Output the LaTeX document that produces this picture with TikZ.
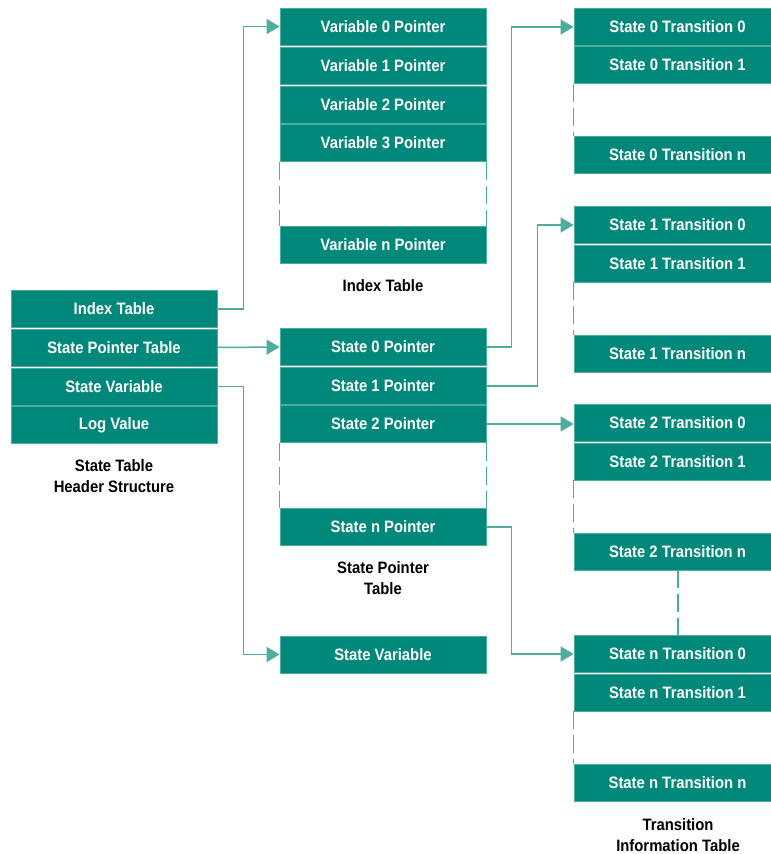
\documentclass[tikz,border=0pt]{standalone}
\usepackage{fontspec}
\setmainfont{Liberation Sans}[FakeStretch=0.9,UprightFont=*,BoldFont=* Bold]
\usetikzlibrary{arrows.meta}
\definecolor{tealbox}{HTML}{00897A}
\definecolor{tealline}{HTML}{4DAE9F}
\begin{document}
\begin{tikzpicture}[x=1pt,y=-1pt,
    cell/.style={fill=tealbox,draw=tealline,line width=0.8pt,text=white,
      minimum width=206pt,minimum height=37pt,inner sep=0pt,font=\fontsize{16.5}{18}\selectfont\bfseries},
    wide/.style={cell,minimum width=207pt},
    caption/.style={align=center,font=\fontsize{16.5}{21}\selectfont\bfseries},
    link/.style={draw=tealline,line width=1.5pt,-{Triangle[length=13pt,width=15pt]}},
    gapline/.style={draw=tealline,line width=1.3pt,dash pattern=on 18pt off 6pt}]
  \useasboundingbox (0,0) rectangle (771,854);

  % header structure
  \node[cell] (idx)  at (114,309)   {Index Table};
  \node[cell] (spt)  at (114,347.5) {State Pointer Table};
  \node[cell] (svar) at (114,386.5) {State Variable};
  \node[cell] (logv) at (114,425)   {Log Value};
  \node[caption] at (114,476) {State Table\\Header Structure};

  % index table
  \node[cell] (v0) at (383,26.5)  {Variable 0 Pointer};
  \node[cell] (v1) at (383,65.5)  {Variable 1 Pointer};
  \node[cell] (v2) at (383,104.5) {Variable 2 Pointer};
  \node[cell] (v3) at (383,143)   {Variable 3 Pointer};
  \node[cell] (vn) at (383,245)   {Variable n Pointer};
  \node[caption] at (383,286) {Index Table};

  % state pointer table
  \node[cell] (s0) at (383,347) {State 0 Pointer};
  \node[cell] (s1) at (383,386) {State 1 Pointer};
  \node[cell] (s2) at (383,424) {State 2 Pointer};
  \node[cell] (sn) at (383,527) {State n Pointer};
  \node[caption] at (383,578) {State Pointer\\Table};

  \node[cell] (sv) at (383,654.5) {State Variable};

  % transition information table
  \node[wide] (t00) at (677.5,27)    {State 0 Transition 0};
  \node[wide] (t01) at (677.5,65)    {State 0 Transition 1};
  \node[wide] (t0n) at (677.5,155)   {State 0 Transition n};
  \node[wide] (t10) at (677.5,225)   {State 1 Transition 0};
  \node[wide] (t11) at (677.5,263.5) {State 1 Transition 1};
  \node[wide] (t1n) at (677.5,353.5) {State 1 Transition n};
  \node[wide] (t20) at (677.5,423)   {State 2 Transition 0};
  \node[wide] (t21) at (677.5,461.5) {State 2 Transition 1};
  \node[wide] (t2n) at (677.5,551.5) {State 2 Transition n};
  \node[wide] (tn0) at (677.5,654)   {State n Transition 0};
  \node[wide] (tn1) at (677.5,692.5) {State n Transition 1};
  \node[wide] (tnn) at (677.5,783)   {State n Transition n};
  \node[caption] at (678,835) {Transition\\Information Table};

  % open ends of the tables
  \path[gapline]
    (v3.south west) -- (vn.north west)
    (v3.south east) -- (vn.north east)
    (s2.south west) -- (sn.north west)
    (s2.south east) -- (sn.north east)
    (t01.south west) -- (t0n.north west)
    (t11.south west) -- (t1n.north west)
    (t21.south west) -- (t2n.north west)
    (tn1.south west) -- (tnn.north west)
    (t2n.south -| 678,0) -- (tn0.north -| 678,0);

  % pointers
  \draw[link] (idx.east) -- ++(26,0) |- (v0.west);
  \draw[link] (spt.east) -- (s0.west);
  \draw[link] (svar.east) -- ++(26,0) |- (sv.west);
  \draw[link] (s0.east) -- ++(25,0) |- (t00.west);
  \draw[link] (s1.east) -- ++(51,0) |- (t10.west);
  \draw[link] (s2.east) -- (s2.east -| t20.west);
  \draw[link] (sn.east) -- ++(25,0) |- (tn0.west);
\end{tikzpicture}
\end{document}
